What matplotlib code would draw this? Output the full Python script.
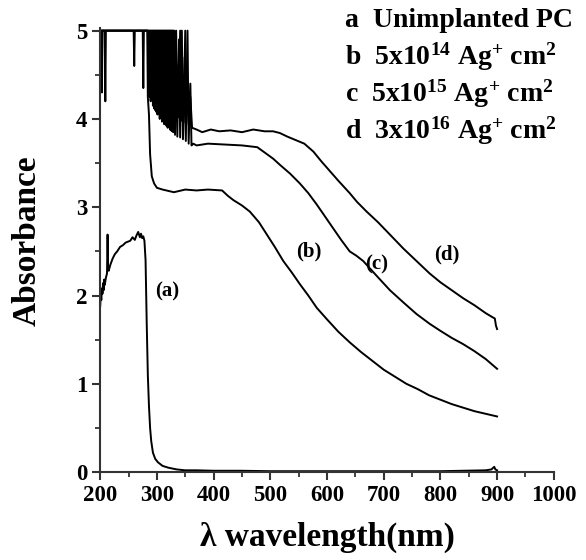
import matplotlib
matplotlib.use("Agg")
import matplotlib.pyplot as plt
from matplotlib.ticker import MultipleLocator

plt.rcParams['font.family'] = ['Liberation Serif', 'DejaVu Serif']
plt.rcParams['font.weight'] = 'bold'
plt.rcParams['mathtext.fontset'] = 'custom'
plt.rcParams['mathtext.rm'] = 'Liberation Serif:bold'
plt.rcParams['mathtext.bf'] = 'Liberation Serif:bold'
plt.rcParams['mathtext.it'] = 'Liberation Serif:bold'

# (a) unimplanted PC
wl_a = [200, 201, 202, 203, 204, 205, 206, 207, 208, 210, 212, 213, 214, 215, 218, 222, 226, 230,
        235, 240, 245, 249, 253, 257, 261, 264, 267, 270, 272, 274, 276, 278, 280, 282, 284, 286,
        288, 290, 293, 297, 302, 310, 320, 335, 350, 370, 400, 450, 500, 600, 700, 800,
        880, 890, 895, 897, 900]
abs_a = [1.88, 2.0, 1.95, 2.08, 2.02, 2.14, 2.06, 2.18, 2.12, 2.2, 2.25, 2.69, 2.3, 2.28, 2.35, 2.42,
         2.47, 2.5, 2.55, 2.57, 2.6, 2.61, 2.62, 2.66, 2.63, 2.68, 2.72, 2.66, 2.7, 2.65, 2.67, 2.62,
         2.4, 1.7, 1.1, 0.75, 0.5, 0.35, 0.22, 0.15, 0.11, 0.07, 0.05, 0.03, 0.02, 0.02, 0.015, 0.015,
         0.01, 0.01, 0.01, 0.01, 0.02, 0.03, 0.06, 0.03, 0.02]

# (b) 5x10^14
wl_b = [200, 202, 203, 204, 208, 209, 210, 259, 260, 261, 275, 276, 277, 283, 284, 286, 288,
        291, 295, 300, 310, 330, 350, 370, 390, 415, 425, 435, 450, 464, 480, 494, 508, 523,
        538, 552, 567, 582, 600, 620, 640, 660, 680, 700, 720, 740, 760, 780, 800, 820, 840,
        860, 880, 900]
abs_b = [5.0, 5.0, 4.3, 5.0, 5.0, 4.2, 5.0, 5.0, 4.6, 5.0, 5.0, 4.35, 5.0, 5.0, 4.25, 4.05, 3.6,
         3.35, 3.27, 3.22, 3.2, 3.17, 3.2, 3.19, 3.2, 3.19, 3.13, 3.08, 3.02, 2.95, 2.83, 2.69, 2.55,
         2.39, 2.26, 2.13, 2.0, 1.86, 1.73, 1.59, 1.47, 1.36, 1.26, 1.16, 1.08, 1.0, 0.94, 0.87, 0.82,
         0.77, 0.73, 0.69, 0.66, 0.63]

# (c) 5x10^15
wl_c = [200, 284, 285, 286, 287, 288, 289, 290, 291, 292, 293, 294, 295, 296, 297, 298, 299,
        300, 301, 302, 303, 304, 305, 306, 307, 308, 309, 310, 311, 312, 313, 314, 315, 316,
        317, 318, 319, 320, 321, 322, 323, 324, 325, 326, 327, 328, 329, 330, 332, 334, 336,
        339, 341, 344, 346, 349, 351, 354, 356, 359, 361, 364, 370, 390, 420, 450, 477, 490,
        505, 517, 535, 552, 567, 582, 596, 611, 625, 640, 652, 664, 688, 711, 735, 758, 781,
        800, 820, 840, 860, 880, 900]
abs_c = [5.0, 5.0, 4.35, 5.0, 4.25, 5.0, 4.2, 5.0, 4.22, 5.0, 4.15, 5.0, 4.12, 5.0, 4.1, 5.0, 4.08,
         5.0, 4.05, 5.0, 4.06, 5.0, 4.0, 5.0, 4.02, 5.0, 3.97, 5.0, 3.98, 5.0, 3.94, 5.0, 3.95, 5.0,
         3.92, 5.0, 3.9, 5.0, 3.91, 5.0, 3.88, 5.0, 3.87, 5.0, 3.86, 5.0, 3.85, 4.8, 3.82, 5.0, 3.8,
         4.9, 3.79, 5.0, 3.77, 4.7, 3.75, 5.0, 3.72, 4.4, 3.7, 3.72, 3.7, 3.72, 3.71, 3.7, 3.68, 3.62,
         3.55, 3.48, 3.38, 3.27, 3.16, 3.03, 2.9, 2.76, 2.63, 2.5, 2.45, 2.39, 2.22, 2.06, 1.92, 1.79,
         1.68, 1.6, 1.52, 1.45, 1.37, 1.28, 1.17]

# (d) 3x10^16
wl_d = [200, 285, 286, 287, 288, 289, 290, 291, 292, 293, 294, 295, 296, 297, 298, 299, 300,
        301, 302, 303, 304, 305, 306, 307, 308, 309, 310, 311, 312, 313, 314, 315, 316, 317,
        318, 319, 320, 321, 322, 323, 324, 325, 326, 327, 328, 329, 330, 331, 333, 336, 338,
        341, 343, 345, 347, 350, 352, 355, 357, 359, 362, 370, 380, 395, 410, 430, 450, 470,
        490, 505, 517, 530, 545, 560, 576, 590, 605, 620, 640, 653, 670, 690, 711, 735, 758,
        781, 800, 820, 840, 860, 880, 893, 896, 898, 900]
abs_d = [5.0, 5.0, 4.45, 5.0, 4.5, 5.0, 4.42, 5.0, 4.46, 5.0, 4.4, 5.0, 4.43, 5.0, 4.38, 5.0, 4.41,
         5.0, 4.36, 5.0, 4.4, 5.0, 4.33, 5.0, 4.37, 5.0, 4.4, 5.0, 4.3, 5.0, 4.28, 5.0, 4.25, 5.0,
         4.22, 5.0, 4.2, 5.0, 4.18, 5.0, 4.15, 5.0, 4.13, 5.0, 4.1, 5.0, 4.1, 5.0, 4.05, 4.6, 4.02,
         5.0, 3.98, 4.5, 3.96, 5.0, 3.94, 4.4, 3.92, 4.25, 3.9, 3.88, 3.85, 3.88, 3.86, 3.87, 3.85,
         3.88, 3.86, 3.86, 3.84, 3.8, 3.76, 3.72, 3.63, 3.52, 3.41, 3.3, 3.16, 3.06, 2.95, 2.83, 2.69,
         2.53, 2.39, 2.25, 2.15, 2.06, 1.97, 1.89, 1.8, 1.75, 1.74, 1.66, 1.62]

legend_lines = ["a  Unimplanted PC",
                "b  5x10$^{14}$ Ag$^{+}$ cm$^{2}$",
                "c  5x10$^{15}$ Ag$^{+}$ cm$^{2}$",
                "d  3x10$^{16}$ Ag$^{+}$ cm$^{2}$"]
curve_tags = ["(a)", "(b)", "(c)", "(d)"]
tag_pos = [(318, 2.05), (568, 2.5), (688, 2.35), (811, 2.47)]

fig = plt.figure(figsize=(5.86, 5.6), dpi=100)
ax = fig.add_axes([0.171, 0.157, 0.774, 0.793])

for wl, ab in [(wl_a, abs_a), (wl_b, abs_b), (wl_c, abs_c), (wl_d, abs_d)]:
    ax.plot(wl, ab, color="black", lw=1.4)

for tag, (x, y) in zip(curve_tags, tag_pos):
    ax.text(x, y, tag, fontsize=15, fontweight="bold", ha="center", va="center")

ax.set_xlim(200, 1000)
ax.set_ylim(0, 5.03)
ax.xaxis.set_major_locator(MultipleLocator(100))
ax.xaxis.set_minor_locator(MultipleLocator(50))
ax.yaxis.set_major_locator(MultipleLocator(1))
ax.yaxis.set_minor_locator(MultipleLocator(0.5))
ax.spines["top"].set_visible(False)
ax.spines["right"].set_visible(False)
for s in ["left", "bottom"]:
    ax.spines[s].set_color("#333333")
    ax.spines[s].set_linewidth(1.5)
ax.tick_params(which="major", length=6, width=1.5, labelsize=16.5, color="#333333")
ax.tick_params(which="minor", length=3.5, width=1.3, color="#333333")
for lbl in ax.get_xticklabels() + ax.get_yticklabels():
    lbl.set_fontweight("bold")

ax.set_xlabel("λ wavelength(nm)", fontsize=24, fontweight="bold")
ax.set_ylabel("Absorbance", fontsize=24, fontweight="bold")
ax.xaxis.set_label_coords(0.5, -0.112)
ax.yaxis.set_label_coords(-0.128, 0.522)

for i, line in enumerate(legend_lines):
    fig.text(0.589, 0.964 - i * 0.066, line, fontsize=20, fontweight="bold",
             ha="left", va="center")

fig.savefig("out.png", dpi=100)
